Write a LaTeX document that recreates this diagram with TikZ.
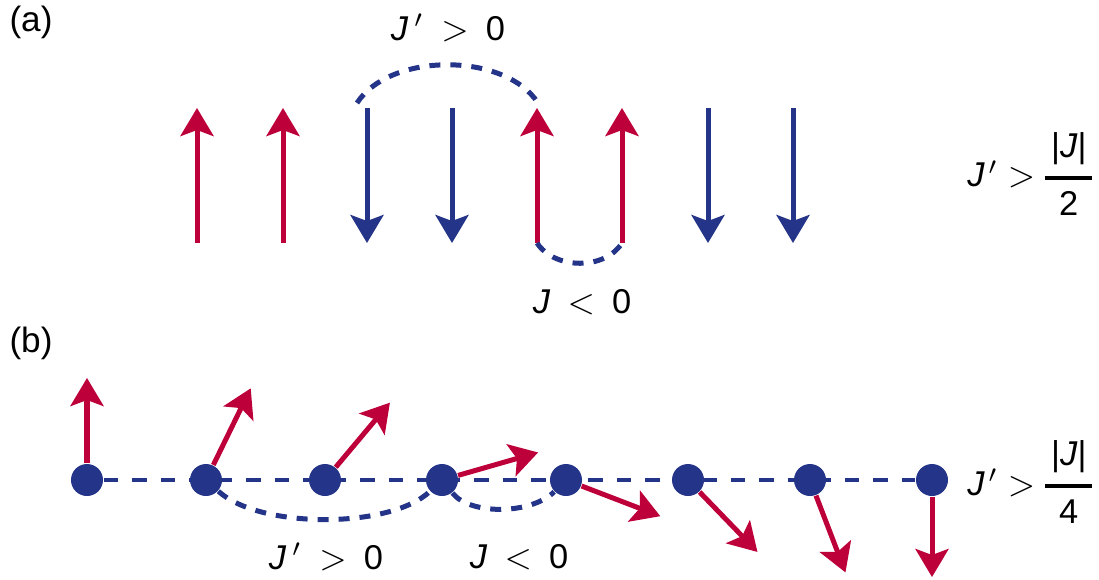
\documentclass[tikz,border=0pt]{standalone}
\usepackage{amsmath}
\usepackage{fontspec}
\setmainfont{Liberation Sans}
\usetikzlibrary{arrows.meta}
\definecolor{SpinRed}{RGB}{190,0,58}
\definecolor{SpinBlue}{RGB}{36,52,136}

\begin{document}
\begin{tikzpicture}[
    font=\fontsize{9.8}{11}\selectfont,
    spin/.style={
        -{Stealth[length=0.28cm,width=0.33cm,inset=0.06cm]},
        line width=0.05cm
    },
    site/.style={
        circle,
        fill=SpinBlue,
        inner sep=0pt,
        minimum size=0.32cm
    },
    chain/.style={
        draw=SpinBlue,
        line width=0.035cm,
        dash pattern=on 0.145cm off 0.14cm
    },
    bond/.style={
        draw=SpinBlue,
        line width=0.05cm,
        dash pattern=on 0.11cm off 0.1cm
    },
    lbl/.style={
        inner sep=1pt,
        align=center
    },
    panel/.style={
        font=\fontsize{10}{12}\selectfont,
        inner sep=1pt
    }
]

\useasboundingbox (0,0) rectangle (10.99,-5.79);

% panel (a)
\node[panel] (pa) at (0.31,-0.22) {(a)};

\coordinate (sb1) at (1.97,-2.43); \coordinate (st1) at (1.97,-1.08);
\coordinate (sb2) at (2.83,-2.43); \coordinate (st2) at (2.83,-1.08);
\coordinate (sb3) at (3.67,-2.43); \coordinate (st3) at (3.67,-1.08);
\coordinate (sb4) at (4.52,-2.43); \coordinate (st4) at (4.52,-1.08);
\coordinate (sb5) at (5.37,-2.43); \coordinate (st5) at (5.37,-1.08);
\coordinate (sb6) at (6.22,-2.43); \coordinate (st6) at (6.22,-1.08);
\coordinate (sb7) at (7.08,-2.43); \coordinate (st7) at (7.08,-1.08);
\coordinate (sb8) at (7.93,-2.43); \coordinate (st8) at (7.93,-1.08);

\draw[spin, SpinRed]  (sb1) -- (st1);
\draw[spin, SpinRed]  (sb2) -- (st2);
\draw[spin, SpinBlue] (st3) -- (sb3);
\draw[spin, SpinBlue] (st4) -- (sb4);
\draw[spin, SpinRed]  (sb5) -- (st5);
\draw[spin, SpinRed]  (sb6) -- (st6);
\draw[spin, SpinBlue] (st7) -- (sb7);
\draw[spin, SpinBlue] (st8) -- (sb8);

\coordinate (arcL) at (3.57,-1.03);
\coordinate (arcR) at (5.38,-1.03);
\draw[bond] (arcL) .. controls (3.90,-0.52) and (5.05,-0.52) .. (arcR);
\draw[bond] (sb5) .. controls (5.55,-2.70) and (6.05,-2.70) .. (sb6);

\node[lbl] (jpa) at (4.48,-0.28) {\textit{J}\,$'$\enspace$>$\enspace0};
\node[lbl] (ja)  at (5.82,-3.02) {\textit{J}\enspace$<$\enspace0};
\node[lbl] (conda) at (10.32,-1.74)
{\textit{J}\kern1pt$'$\;$>$\,$\genfrac{}{}{1.1pt}{0}{\,\text{|\textit{J}|}\,}{\text{2}}$};

% panel (b)
\node[panel] (pb) at (0.31,-3.43) {(b)};

\node[site] (d1) at (0.87,-4.80) {};
\node[site] (d2) at (2.06,-4.80) {};
\node[site] (d3) at (3.25,-4.80) {};
\node[site] (d4) at (4.42,-4.80) {};
\node[site] (d5) at (5.66,-4.80) {};
\node[site] (d6) at (6.88,-4.80) {};
\node[site] (d7) at (8.10,-4.80) {};
\node[site] (d8) at (9.32,-4.80) {};

\draw[chain] (d1) -- (d8);

\path (d1) ++(90:1.02)  coordinate (t1);
\path (d2) ++(64:1.02)  coordinate (t2);
\path (d3) ++(50:1.01)  coordinate (t3);
\path (d4) ++(16:1.00)  coordinate (t4);
\path (d5) ++(-21:1.01) coordinate (t5);
\path (d6) ++(-46:1.00) coordinate (t6);
\path (d7) ++(-69:0.99) coordinate (t7);
\path (d8) ++(-90:0.97) coordinate (t8);

\draw[spin, SpinRed] (d1) -- (t1);
\draw[spin, SpinRed] (d2) -- (t2);
\draw[spin, SpinRed] (d3) -- (t3);
\draw[spin, SpinRed] (d4) -- (t4);
\draw[spin, SpinRed] (d5) -- (t5);
\draw[spin, SpinRed] (d6) -- (t6);
\draw[spin, SpinRed] (d7) -- (t7);
\draw[spin, SpinRed] (d8) -- (t8);

\draw[bond] (d2) .. controls (2.60,-5.29) and (3.90,-5.29) .. (d4);
\draw[bond] (d4) .. controls (4.70,-5.15) and (5.30,-5.15) .. (d5.south west);

\node[lbl] (jpb) at (3.26,-5.57) {\textit{J}\,$'$\enspace$>$\enspace0};
\node[lbl] (jb)  at (5.19,-5.57) {\textit{J}\enspace$<$\enspace0};
\node[lbl] (condb) at (10.32,-4.82)
{\textit{J}\kern1pt$'$\;$>$\,$\genfrac{}{}{1.1pt}{0}{\,\text{|\textit{J}|}\,}{\text{4}}$};

\end{tikzpicture}
\end{document}
